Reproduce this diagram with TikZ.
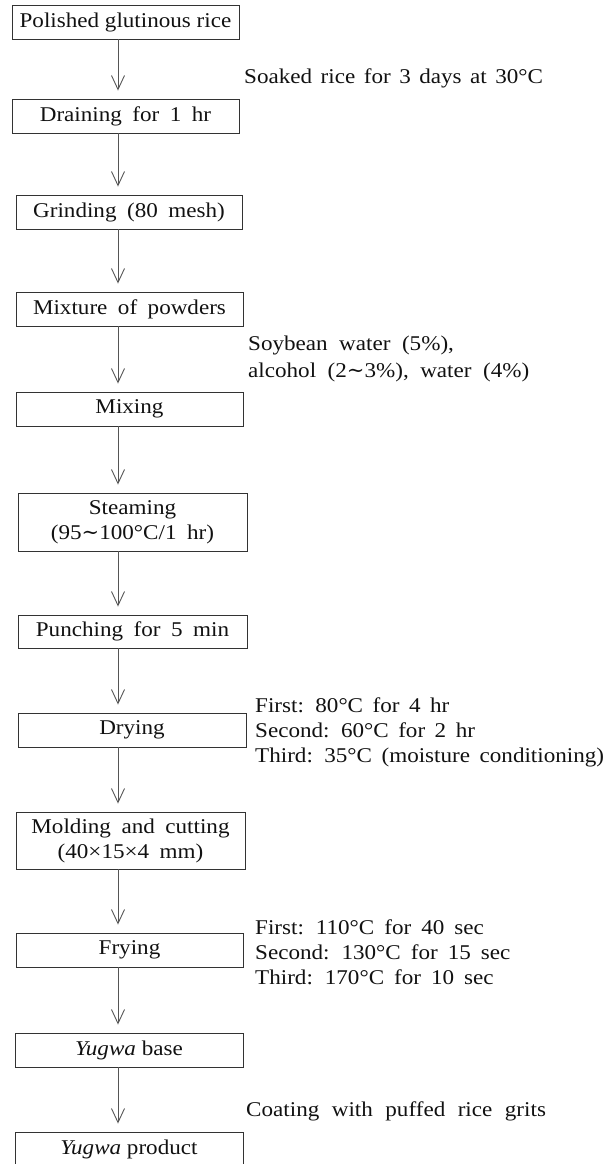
\documentclass[tikz,border=0pt]{standalone}
\usepackage{fontspec}
\setmainfont{Liberation Serif}[FakeStretch=1.1]
\newfontfamily\symfont{DejaVu Serif}
\usetikzlibrary{arrows.meta}
\definecolor{boxc}{HTML}{333333}
\definecolor{linec}{HTML}{555555}
\definecolor{txtc}{HTML}{111111}
\newcommand{\tld}{{\symfont ∼}}
\newcommand{\wsp}[1]{\spaceskip=#1pt plus 0.5pt minus 0.5pt\relax}
\begin{document}
\begin{tikzpicture}[x=1pt,y=-1pt,
  stepbox/.style={draw=boxc, line width=0.9pt, minimum height=34pt, inner sep=0pt,
     align=center, text=txtc, font=\fontsize{21}{25}\selectfont},
  widebox/.style={stepbox, font=\fontsize{21}{25}\selectfont\wsp{10.5}},
  note/.style={anchor=west, align=left, inner sep=0pt, text=txtc,
     font=\fontsize{21}{25}\selectfont\wsp{9.5}},
  flow/.style={draw=linec, line width=0.9pt,
     -{Straight Barb[length=14pt,width=13pt,line width=0.9pt]}, shorten >=8pt}]
\useasboundingbox (0,0) rectangle (609,1164);
\coordinate (ax) at (118,0);
\node[stepbox, minimum width=227pt] (b1) at (125.5,22) {Polished glutinous rice};
\node[widebox, minimum width=227pt] (b2) at (125.5,116) {Draining for 1 hr};
\node[widebox, minimum width=226pt] (b3) at (129,212) {Grinding (80 mesh)};
\node[widebox, minimum width=227pt] (b4) at (129.5,309) {Mixture of powders};
\node[stepbox, minimum width=227pt] (b5) at (129.5,409) {Mixing};
\node[widebox, minimum width=229pt, minimum height=58pt] (b6) at (132.5,522) {Steaming\\(95\tld 100°C/1 hr)};
\node[widebox, minimum width=229pt, minimum height=33pt] (b7) at (132.5,631.5) {Punching for 5 min};
\node[stepbox, minimum width=228pt] (b8) at (132,730) {Drying};
\node[widebox, minimum width=229pt, minimum height=57pt] (b9) at (130.5,840.5) {Molding and cutting\\(40×15×4 mm)};
\node[stepbox, minimum width=227pt] (b10) at (129.5,950) {Frying};
\node[stepbox, minimum width=228pt] (b11) at (129,1050) {\textit{Yugwa} base};
\node[stepbox, minimum width=228pt] (b12) at (129,1149) {\textit{Yugwa} product};

\node[note, font=\fontsize{21}{25}\selectfont\wsp{8.5}] (soak) at (244,78) {Soaked rice for 3 days at 30°C};
\node[note, font=\fontsize{21}{27}\selectfont\wsp{11.5}] (soy) at (248,358.5) {Soybean water (5\%),\\alcohol (2\tld 3\%), water (4\%)};
\node[note] (dry) at (255,732) {First: 80°C for 4 hr\\Second: 60°C for 2 hr\\Third: 35°C (moisture conditioning)};
\node[note, font=\fontsize{21}{25}\selectfont\wsp{10}] (fry) at (255,952) {First: 110°C for 40 sec\\Second: 130°C for 15 sec\\Third: 170°C for 10 sec};
\node[note, font=\fontsize{21}{25}\selectfont\wsp{12.5}] (coat) at (246,1111) {Coating with puffed rice grits};

\foreach \a/\b in {b1/b2,b2/b3,b3/b4,b4/b5,b5/b6,b6/b7,b7/b8,b8/b9,b9/b10,b10/b11,b11/b12}
  \draw[flow] (\a.south -| ax) -- (\b.north -| ax);
\end{tikzpicture}
\end{document}
